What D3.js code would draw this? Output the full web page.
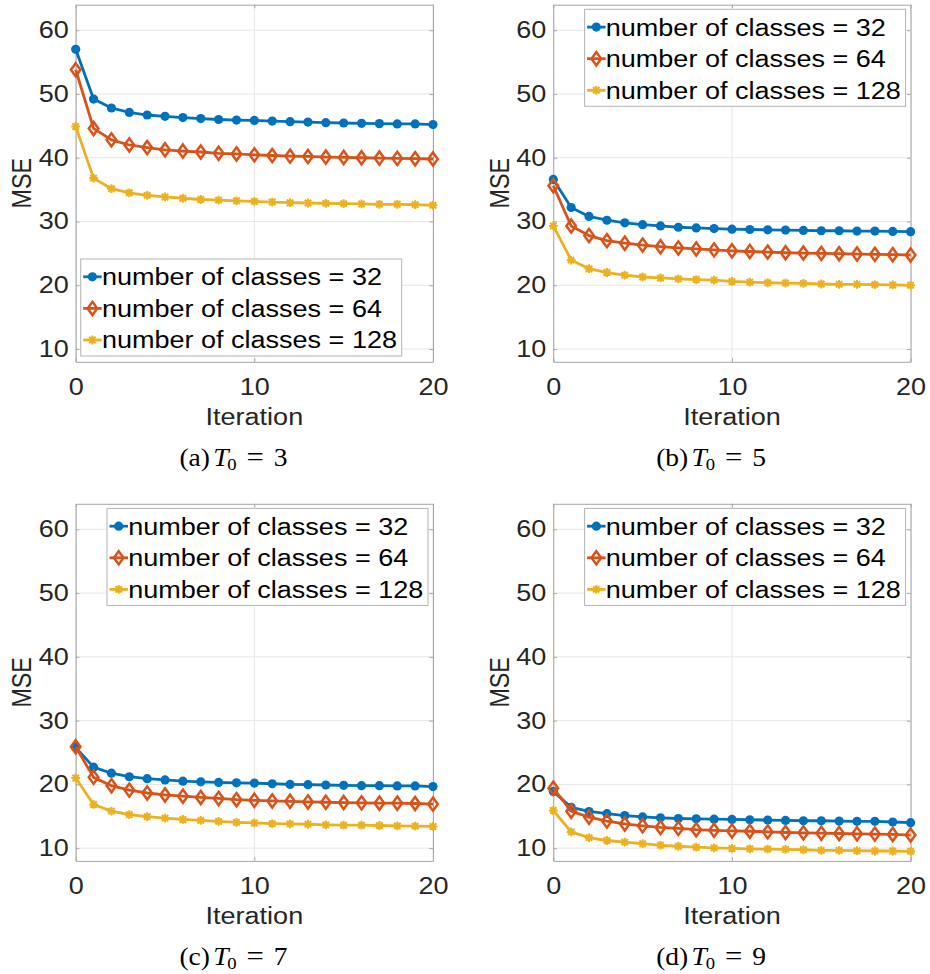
<!DOCTYPE html>
<html>
<head>
<meta charset="utf-8">
<script src="https://cdn.jsdelivr.net/npm/d3@7"></script>
<style>
  body { margin: 0; background: #fff; }
  svg { display: block; }
</style>
</head>
<body>
<svg id="chart" width="930" height="974"></svg>
<script>
// data (MSE per iteration)
const iterations = [0, 1, 2, 3, 4, 5, 6, 7, 8, 9, 10, 11, 12, 13, 14, 15, 16, 17, 18, 19, 20];
const classCounts = [32, 64, 128];
const t0Values = [3, 5, 7, 9];
const panelLetters = ['a', 'b', 'c', 'd'];
const xTicks = [0, 10, 20];
const yTicks = [10, 20, 30, 40, 50, 60];

const t3_32  = [57.0, 49.2, 47.8, 47.1, 46.7, 46.5, 46.3, 46.15, 46.0, 45.9, 45.85, 45.75, 45.65, 45.6, 45.5, 45.45, 45.4, 45.35, 45.3, 45.3, 45.2];
const t3_64  = [53.8, 44.6, 42.8, 42.0, 41.6, 41.25, 41.05, 40.9, 40.7, 40.6, 40.45, 40.35, 40.25, 40.2, 40.1, 40.05, 40.0, 39.95, 39.9, 39.85, 39.8];
const t3_128 = [44.9, 36.8, 35.15, 34.5, 34.1, 33.85, 33.65, 33.45, 33.35, 33.25, 33.15, 33.05, 32.95, 32.9, 32.85, 32.8, 32.75, 32.7, 32.7, 32.65, 32.55];

const t5_32  = [36.6, 32.2, 30.8, 30.2, 29.8, 29.5, 29.3, 29.1, 29.0, 28.9, 28.8, 28.75, 28.7, 28.65, 28.6, 28.55, 28.55, 28.5, 28.5, 28.45, 28.4];
const t5_64  = [35.6, 29.3, 27.8, 27.0, 26.6, 26.3, 26.05, 25.85, 25.7, 25.55, 25.4, 25.3, 25.2, 25.1, 25.05, 25.0, 24.95, 24.9, 24.85, 24.8, 24.75];
const t5_128 = [29.3, 23.95, 22.6, 22.0, 21.6, 21.3, 21.15, 21.0, 20.9, 20.8, 20.6, 20.5, 20.4, 20.35, 20.3, 20.2, 20.15, 20.15, 20.1, 20.05, 20.0];

const t7_32  = [25.8, 22.7, 21.75, 21.2, 20.9, 20.7, 20.5, 20.4, 20.3, 20.25, 20.2, 20.1, 20.0, 19.95, 19.9, 19.85, 19.8, 19.8, 19.75, 19.75, 19.65];
const t7_64  = [25.9, 21.1, 19.8, 19.1, 18.65, 18.35, 18.15, 17.95, 17.8, 17.6, 17.5, 17.4, 17.35, 17.25, 17.2, 17.15, 17.1, 17.05, 17.05, 17.0, 16.9];
const t7_128 = [21.0, 16.85, 15.8, 15.25, 14.95, 14.7, 14.5, 14.35, 14.2, 14.05, 13.95, 13.85, 13.8, 13.75, 13.65, 13.6, 13.6, 13.55, 13.5, 13.45, 13.4];

const t9_32  = [18.9, 16.4, 15.75, 15.4, 15.1, 14.9, 14.75, 14.65, 14.6, 14.55, 14.5, 14.45, 14.4, 14.35, 14.3, 14.3, 14.25, 14.2, 14.2, 14.1, 14.0];
const t9_64  = [19.4, 15.8, 14.85, 14.25, 13.8, 13.5, 13.25, 13.1, 12.9, 12.8, 12.7, 12.65, 12.55, 12.45, 12.4, 12.35, 12.3, 12.25, 12.2, 12.15, 12.05];
const t9_128 = [15.9, 12.55, 11.65, 11.2, 10.95, 10.7, 10.45, 10.3, 10.15, 10.05, 9.95, 9.9, 9.85, 9.8, 9.75, 9.65, 9.65, 9.6, 9.55, 9.55, 9.5];

const panelSeries = [
  [t3_32, t3_64, t3_128],
  [t5_32, t5_64, t5_128],
  [t7_32, t7_64, t7_128],
  [t9_32, t9_64, t9_128]
];

// layout / style
const AX_W = 357.3, AX_H = 357.1;
const panelPos = [[75.7, 4.7], [553.3, 4.7], [75.7, 503.8], [553.3, 503.8]];
const legendCorner = ['sw', 'ne', 'ne', 'ne'];
const COLORS = ['#0072BD', '#D95319', '#EDB120'];
const BOX = '#a6a6a6';
const GRID = '#e6e6e6';
const INK = '#262626';
const SANS = '"Liberation Sans", Arial, Helvetica, sans-serif';
const FS = 23.3;     // font size
const SX = 1.16;     // the reference text is stretched horizontally
const LEG_W = 321, LEG_H = 97;
const LW = 2.8;

const svg = d3.select('#chart');

function stretchText(g, x, y, str, anchor, extra) {
  return g.append('text')
    .attr('transform', `translate(${x},${y}) scale(${SX},1)${extra || ''}`)
    .attr('text-anchor', anchor)
    .style('font-family', SANS)
    .attr('font-size', FS)
    .attr('fill', INK)
    .text(str);
}

// marker shapes: MATLAB 'o' filled, 'd' open, '*'
function drawMarker(g, kind, cx, cy, color) {
  if (kind === 0) {
    g.append('circle').attr('cx', cx).attr('cy', cy).attr('r', 4.6).attr('fill', color);
  } else if (kind === 1) {
    g.append('path')
      .attr('d', `M${cx},${cy - 6.6}L${cx + 4.8},${cy}L${cx},${cy + 6.6}L${cx - 4.8},${cy}Z`)
      .attr('fill', 'none').attr('stroke', color).attr('stroke-width', 2.5)
      .attr('stroke-linejoin', 'miter');
  } else {
    const a = 4.4, d = 3.2;
    g.append('path')
      .attr('d', `M${cx - a},${cy}H${cx + a}M${cx},${cy - a}V${cy + a}` +
                 `M${cx - d},${cy - d}L${cx + d},${cy + d}M${cx - d},${cy + d}L${cx + d},${cy - d}`)
      .attr('fill', 'none').attr('stroke', color).attr('stroke-width', 2.1);
  }
}

function drawPanel(p) {
  const [left, top] = panelPos[p];
  const series = panelSeries[p];
  const g = svg.append('g').attr('transform', `translate(${left},${top})`);

  const x = d3.scaleLinear().domain([0, 20]).range([0, AX_W]);
  const y = d3.scaleLinear().domain([8, 64]).range([AX_H, 0]);

  // grid
  g.append('g').selectAll('line').data(yTicks).join('line')
    .attr('x1', 0).attr('x2', AX_W)
    .attr('y1', d => y(d)).attr('y2', d => y(d))
    .attr('stroke', GRID).attr('stroke-width', 1);
  g.append('g').selectAll('line').data(xTicks).join('line')
    .attr('x1', d => x(d)).attr('x2', d => x(d))
    .attr('y1', 0).attr('y2', AX_H)
    .attr('stroke', GRID).attr('stroke-width', 1);

  // axes (box with inward ticks on all sides)
  const axB = g.append('g').attr('transform', `translate(0,${AX_H})`)
    .call(d3.axisBottom(x).tickValues(xTicks).tickSizeInner(-3.6).tickSizeOuter(0).tickPadding(16.7));
  const axL = g.append('g')
    .call(d3.axisLeft(y).tickValues(yTicks).tickSizeInner(-3.6).tickSizeOuter(0).tickPadding(7 / SX));
  const axT = g.append('g')
    .call(d3.axisTop(x).tickValues(xTicks).tickSizeInner(-3.6).tickSizeOuter(0).tickFormat(() => ''));
  const axR = g.append('g').attr('transform', `translate(${AX_W},0)`)
    .call(d3.axisRight(y).tickValues(yTicks).tickSizeInner(-3.6).tickSizeOuter(0).tickFormat(() => ''));

  [axB, axL, axT, axR].forEach(a => {
    a.select('.domain').attr('stroke', BOX).attr('stroke-width', 1);
    a.selectAll('.tick line').attr('stroke', BOX);
    a.selectAll('text')
      .style('font-family', SANS).attr('font-size', FS).attr('fill', INK)
      .attr('transform', `scale(${SX},1)`);
  });

  // axis titles
  stretchText(g, AX_W / 2, 420.4, 'Iteration', 'middle');
  stretchText(g, -44.3, AX_H / 2, 'MSE', 'middle', ' rotate(-90)');

  // series
  const line = d3.line().x((d, i) => x(iterations[i])).y(d => y(d));
  series.forEach((vals, s) => {
    const sg = g.append('g');
    sg.append('path').attr('d', line(vals))
      .attr('fill', 'none').attr('stroke', COLORS[s]).attr('stroke-width', LW)
      .attr('stroke-linejoin', 'round');
    vals.forEach((v, i) => drawMarker(sg, s, x(iterations[i]), y(v), COLORS[s]));
  });

  // legend
  const lx = legendCorner[p] === 'sw' ? 5 : AX_W - 5 - LEG_W;
  const ly = legendCorner[p] === 'sw' ? AX_H - 5.8 - LEG_H : 4.6;
  const lg = g.append('g').attr('transform', `translate(${lx},${ly})`);
  lg.append('rect').attr('width', LEG_W).attr('height', LEG_H)
    .attr('fill', '#fff').attr('stroke', '#b3b3b3').attr('stroke-width', 1);
  classCounts.forEach((c, s) => {
    const cy = 17.8 + s * 31.6;
    lg.append('line').attr('x1', 2.5).attr('x2', 21).attr('y1', cy).attr('y2', cy)
      .attr('stroke', COLORS[s]).attr('stroke-width', LW);
    drawMarker(lg, s, 11.7, cy, COLORS[s]);
    stretchText(lg, 21.2, cy + 8.4, `number of classes = ${c}`, 'start').attr('fill', '#000');
  });

  // caption, e.g. "(a) T0 = 3"
  const cap = g.append('text')
    .attr('transform', `translate(157.8,461) scale(1.1,1)`)
    .attr('text-anchor', 'middle')
    .style('font-family', '"Liberation Serif", "Times New Roman", serif')
    .attr('font-size', 25).attr('fill', '#000');
  cap.append('tspan').text(`(${panelLetters[p]})`);
  cap.append('tspan').attr('dx', 3).style('font-style', 'italic').text('T');
  cap.append('tspan').attr('font-size', 17).attr('dy', 4).attr('dx', -1).text('0');
  cap.append('tspan').attr('dy', -4).attr('dx', 9).attr('font-size', 28).text('=');
  cap.append('tspan').attr('dx', 9).text(t0Values[p]);
}

d3.range(4).forEach(drawPanel);
</script>
</body>
</html>
